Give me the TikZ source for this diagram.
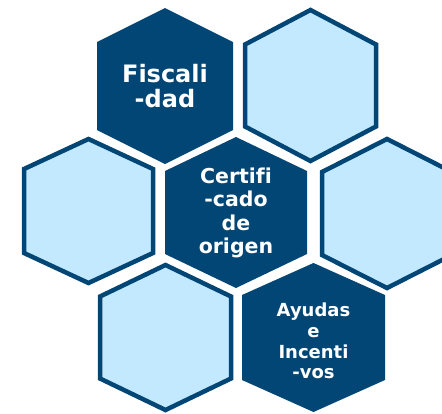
\documentclass[tikz,border=0pt]{standalone}
\usepackage{fontspec}
\setmainfont[Ligatures=NoCommon]{DejaVu Sans}
\definecolor{hexdark}{RGB}{2,70,117}
\definecolor{hexlight}{RGB}{194,233,255}
\newcommand\hexshape[6]{% style, cx, cy, hw, hh, sh
  \path[#1] (#2,#3-#5) -- (#2+#4,#3-#6) -- (#2+#4,#3+#6) -- (#2,#3+#5) -- (#2-#4,#3+#6) -- (#2-#4,#3-#6) -- cycle;}
\tikzset{
  lighthex/.style={fill=hexlight, draw=hexdark, line width=4.5pt, line join=miter},
  darkhex/.style={fill=hexdark},
  hextext/.style={text=white, align=center, inner sep=0pt},
}
\begin{document}
\begin{tikzpicture}[x=1pt,y=-1pt]
\useasboundingbox (0,0) rectangle (442,413);
% light hexagons (centerline dims = outer - 2)
\hexshape{lighthex}{310.5}{85.5}{65.5}{75.5}{41}
\hexshape{lighthex}{88.5}{211}{64.5}{72}{42}
\hexshape{lighthex}{387}{213.5}{65}{74.5}{41.5}
\hexshape{lighthex}{165.5}{337.5}{65.5}{72.5}{41}
% dark hexagons
\hexshape{darkhex}{165}{86}{68}{78}{44}
\hexshape{darkhex}{236}{212.5}{71}{75.5}{41.5}
\hexshape{darkhex}{313.5}{337.5}{71.5}{74.5}{42.5}
% texts
\node[hextext, font=\fontsize{24}{25}\selectfont\bfseries] (fisc) at (165,86) {Fiscali\\-dad};
\node[hextext, font=\fontsize{20.5}{23.3}\selectfont\bfseries] (cert) at (236,213) {Certifi\\-cado\\de\\origen};
\node[hextext, font=\fontsize{18}{20.8}\selectfont\bfseries] (ayud) at (313.5,341) {Ayudas\\e\\Incenti\\-vos};
\end{tikzpicture}
\end{document}
